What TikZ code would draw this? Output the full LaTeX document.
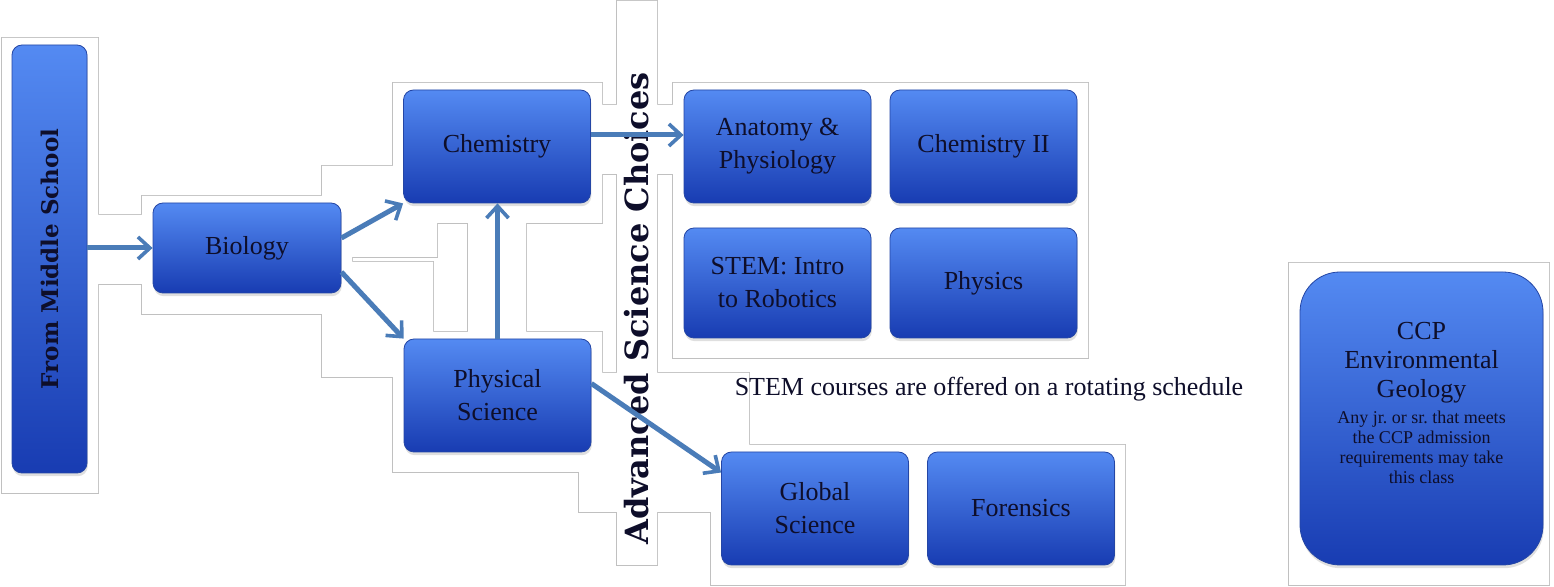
\documentclass[tikz,border=0pt]{standalone}
\usepackage{fontspec}
\setmainfont{Liberation Serif}
\newfontfamily\titrefont{DejaVu Serif}
\usepackage{xcolor}
\usepackage{tikz}
\usetikzlibrary{arrows.meta,shadows}
\frenchspacing

\definecolor{boxtop}{RGB}{84,138,242}
\definecolor{boxbot}{RGB}{24,60,178}
\definecolor{boxline}{RGB}{36,70,165}
\definecolor{flechecol}{RGB}{74,124,184}
\definecolor{cadrecol}{RGB}{192,192,192}
\definecolor{textcol}{RGB}{14,14,42}

\begin{document}
\begin{tikzpicture}[x=0.5pt,y=-0.5pt,
  boite/.style={rectangle, rounded corners=5pt, draw=boxline, line width=0.4pt,
    top color=boxtop, bottom color=boxbot, text=textcol, align=center,
    font=\fontsize{13}{16.5}\selectfont,
    drop shadow={shadow xshift=0.4pt, shadow yshift=-1.6pt, opacity=0.25}},
  cours/.style={boite, minimum width=93.5pt, minimum height=56.5pt},
  fleche/.style={draw=flechecol, line width=2.5pt,
    -{Straight Barb[length=6pt,width=11pt,line width=1.8pt]}},
  cadre/.style={draw=cadrecol, line width=1.4pt},
  titre/.style={rotate=90, text=textcol, font=\titrefont\bfseries}]

%% fond
\path[use as bounding box, fill=white] (0,0) rectangle (1554,587);

%% cadres
\def\cadres{(2,38) rectangle (98,493) (90,215) rectangle (150,284)
  (142,196) rectangle (352,314) (322,166) rectangle (437,257)
  (393,83) rectangle (602,223) (468,210) rectangle (526,340)
  (322,262) rectangle (433,377) (393,332) rectangle (602,472)
  (579,373) rectangle (749,512) (711,445) rectangle (1125,585)
  (617,1) rectangle (657,565) (595,105) rectangle (680,174)
  (673,83) rectangle (1088,358) (1289,263) rectangle (1549,585)}
\draw[cadre] \cadres;
\fill[white] \cadres;

%% boites
\node[boite, minimum width=37.5pt, minimum height=214pt] (ms) at (49.5,259) {};
\node[boite, minimum width=94pt, minimum height=45pt] (bio) at (247,248) {Biology};
\node[cours] (chem) at (497,146.5) {Chemistry};
\node[cours] (phys) at (497.5,395.5) {Physical\\Science};
\node[cours] (anat) at (777.5,146.5) {Anatomy \&\\Physiology};
\node[cours] (chemii) at (983.5,146.5) {Chemistry II};
\node[cours, minimum height=55pt] (stem) at (777.5,283) {STEM: Intro\\to Robotics};
\node[cours, minimum height=55pt] (physics) at (983.5,283) {Physics};
\node[cours] (glob) at (815,508.5) {Global\\Science};
\node[cours] (foren) at (1021,508.5) {Forensics};
\node[boite, rounded corners=20pt, minimum width=121.5pt, minimum height=146.5pt] (ccp) at (1421.5,418.5) {};

%% textes
\node[titre, font=\titrefont\bfseries\fontsize{11.5}{12}\selectfont] (mstexte) at (ms.center) {From Middle School};
\node[titre, font=\titrefont\bfseries\fontsize{16}{17}\selectfont] (adv) at (637,308.5) {Advanced Science Choices};
\node[text=textcol, font=\fontsize{13}{15}\selectfont] (note) at (989,389) {STEM courses are offered on a rotating schedule};
\node[text=textcol, align=center, font=\fontsize{13}{14.5}\selectfont] (ccptitre)
  at ([yshift=28pt]ccp.center) {CCP\\Environmental\\Geology};
\node[text=textcol, align=center, font=\fontsize{9}{10}\selectfont] (ccpnote)
  at ([yshift=-14.5pt]ccp.center) {Any jr. or sr. that meets\\the CCP admission\\requirements may take\\this class};

%% fleches
\draw[fleche] (ms.east |- bio.west) -- (bio.west);
\draw[fleche] ([yshift=5pt]bio.east) -- (chem.south west);
\draw[fleche] ([yshift=-12pt]bio.east) -- (phys.north west);
\draw[fleche] (phys.north) -- (phys.north |- chem.south);
\draw[fleche] ([yshift=5.75pt]chem.east) -- ([yshift=5.75pt]anat.west);
\draw[fleche] ([yshift=6pt]phys.east) -- ([yshift=18pt]glob.west);

\end{tikzpicture}
\end{document}
